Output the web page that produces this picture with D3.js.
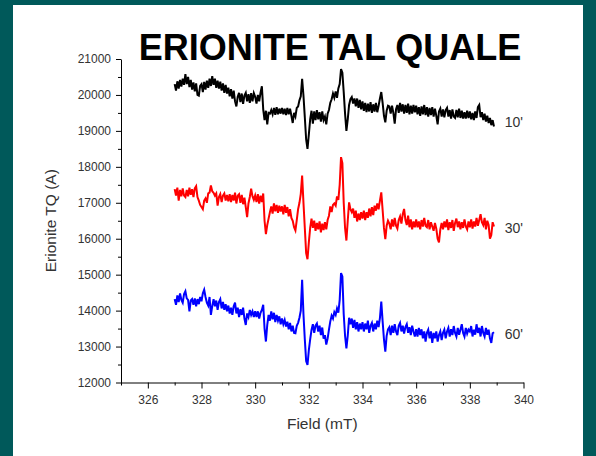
<!DOCTYPE html>
<html>
<head>
<meta charset="utf-8">
<script src="https://cdn.jsdelivr.net/npm/d3@7"></script>
<style>
  html, body { margin: 0; padding: 0; background: #00595a; }
  svg { display: block; }
  text { font-family: "Liberation Sans", Arial, sans-serif; }
</style>
</head>
<body>
<svg id="chart" width="596" height="456"></svg>
<script>
// ---- data ----
const title = "ERIONITE TAL QUALE";
const xLabel = "Field (mT)";
const yLabel = "Erionite TQ (A)";
const fieldStart = 327.0;   // mT, first sample
const fieldStep = 0.05;     // mT, sample spacing
const xTicks = [326, 328, 330, 332, 334, 336, 338, 340];
const xMinorTicks = [325, 327, 329, 331, 333, 335, 337, 339];
const yTicks = [12000, 13000, 14000, 15000, 16000, 17000, 18000, 19000, 20000, 21000];
const yMinorTicks = [12500, 13500, 14500, 15500, 16500, 17500, 18500, 19500, 20500];
const seriesNames = ["10'", "30'", "60'"];
const seriesColors = ["#000000", "#ff0000", "#0000ff"];
const labelValues = [19250, 16300, 13350];

const values10 = [
  20300,20120,20380,20180,20420,20230,20450,20280,20580,20300,20500,20220,20420,20150,20350,20100,20320,20000,19980,20250,
  20300,20080,20360,20150,20400,20200,20450,20250,20520,20280,20450,20200,20400,20180,20370,20120,20320,20060,20280,20040,
  20200,19960,20160,19900,20120,19820,19680,19950,20060,19800,20040,19750,19980,20060,19820,20020,19780,20050,19820,20050,
  19950,19760,20000,19820,20060,20240,19600,19300,19560,19180,19500,19480,19580,19460,19640,19450,19660,19460,19620,19480,
  19640,19460,19620,19440,19640,19460,19620,19420,19220,19500,19400,19640,19680,19850,19960,20450,19980,19380,18760,18500,
  18900,19320,19560,19200,19540,19300,19580,19320,19520,19260,19540,19300,19400,19180,19480,19580,19780,19880,20040,19920,
  20100,19920,20180,20300,20720,20620,20080,19480,19000,19320,19720,19880,19940,19760,19900,19680,19900,19640,19860,19600,
  19820,19560,19780,19520,19760,19540,19800,19500,19740,19540,19780,19520,19700,19900,20080,19780,19420,19240,19560,19700,
  19680,19480,19700,19500,19200,19600,19720,19500,19780,19540,19740,19480,19720,19500,19760,19460,19700,19480,19720,19520,
  19700,19460,19660,19420,19680,19460,19720,19440,19660,19400,19640,19440,19660,19400,19620,19420,19180,19540,19620,19400,
  19600,19380,19580,19640,19400,19580,19340,19600,19400,19360,19580,19380,19620,19360,19560,19340,19520,19340,19560,19360,
  19540,19320,19500,19300,19540,19360,19660,19720,19380,19520,19300,19480,19260,19420,19220,19360,19160,19300,19120
];
const values30 = [
  17380,17200,17420,17060,17360,17180,17400,17200,17160,17360,17180,17420,17220,17380,17160,17400,17460,17160,17060,16940,
  16880,16820,17060,17120,17000,17260,17280,17480,17320,17280,17200,17260,16920,17160,17240,17020,17200,17260,17060,17220,
  17040,17240,17020,17220,17060,17280,16980,17200,17240,17000,17220,16960,17140,16880,16600,16980,17160,17390,17180,17080,
  17200,17020,17240,16980,17200,17020,17260,16500,16130,16380,16560,16740,16900,16700,16980,16760,16940,16720,16920,16760,
  16900,16680,16940,16720,16880,16620,16820,16580,16500,16320,16230,16520,16820,17000,17250,17760,17000,16300,15600,15430,
  15900,16300,16560,16300,16500,16220,16440,16260,16480,16180,16420,16240,16460,16260,16520,16640,16900,16740,16940,16980,
  16920,17180,17080,17500,18270,18100,17000,16300,15950,16500,17010,16820,16740,16840,16580,16780,16480,16700,16520,16740,
  16560,16780,16520,16740,16580,16840,16620,16880,16660,16920,16780,16980,16820,17060,17290,16800,16300,15990,16360,16500,
  16420,16260,16540,16340,16580,16360,16280,16520,16620,16420,16680,16830,16520,16380,16640,16320,16540,16260,16480,16320,
  16540,16320,16480,16260,16520,16340,16580,16360,16320,16520,16260,16460,16340,16220,16440,16280,16000,15900,16260,16440,
  16260,16480,16320,16540,16240,16460,16300,16520,16220,16440,16560,16320,16480,16260,16460,16300,16540,16340,16260,16480,
  16320,16540,16280,16480,16340,16580,16360,16520,16680,16460,16380,16580,16260,16500,16380,16000,16100,16460,16340
];
const values60 = [
  14320,14160,14420,14240,14480,14300,14220,14460,14540,14340,14300,13980,14280,14320,14160,14340,14120,14320,14180,14380,
  14260,14480,14580,14380,14220,14140,14380,13880,14120,14320,14120,14280,14020,14240,14320,14060,14240,14020,14180,13980,
  14140,13920,14080,13880,14120,14220,13920,14080,13820,14040,13880,14080,13780,13600,13920,13820,14020,13880,13980,13820,
  13980,13820,13980,13780,13940,14020,14160,13500,13140,13600,13880,13720,13980,13760,13940,13680,13880,13720,13840,13620,
  13780,13620,13740,13560,13690,13480,13660,13420,13580,13380,13370,13580,13660,13800,14000,14860,13900,13200,12600,12490,
  12900,13200,13465,13620,13380,13580,13640,13420,13580,13320,13530,13220,13320,13055,13220,13470,13700,13860,13780,13960,
  13880,14060,13940,14300,15045,14950,13900,13300,12950,13300,13800,13620,13780,13520,13740,13480,13680,13420,13640,13480,
  13680,13420,13640,13480,13720,13380,13580,13660,13420,13640,13480,13720,13540,13800,14250,13700,13200,12860,13300,13480,
  13540,13320,13580,13380,13620,13420,13320,13580,13660,13420,13580,13360,13540,13620,13380,13540,13320,13580,13420,13280,
  13480,13280,13520,13320,13480,13230,13420,13140,13380,13470,13230,13420,13100,13380,13230,13420,13140,13320,13420,13180,
  13380,13470,13230,13420,13520,13280,13480,13320,13570,13380,13280,13520,13330,13470,13620,13380,13280,13520,13360,13470,
  13420,13570,13280,13470,13330,13620,13380,13520,13280,13570,13380,13280,13520,13330,13470,13230,13100,13370,13400
];
const seriesValues = [values10, values30, values60];

// ---- drawing ----
const svg = d3.select("#chart");

// white panel inside teal frame
svg.append("rect").attr("x", 13).attr("y", 5).attr("width", 570).attr("height", 451).attr("fill", "#ffffff");

const x = d3.scaleLinear().domain([325, 340]).range([121, 523.5]);
const y = d3.scaleLinear().domain([12000, 21000]).range([382.5, 59]);

const axisColor = "#000";
const labelColor = "#333";

// minor ticks
svg.append("g").attr("transform", `translate(0,${y.range()[0]})`)
  .call(d3.axisBottom(x).tickValues(xMinorTicks).tickSize(3).tickFormat(""))
  .call(g => g.select(".domain").remove());
svg.append("g").attr("transform", `translate(${x.range()[0]},0)`)
  .call(d3.axisLeft(y).tickValues(yMinorTicks).tickSize(3).tickFormat(""))
  .call(g => g.select(".domain").remove());

// major axes
const xAxis = svg.append("g").attr("transform", `translate(0,${y.range()[0]})`)
  .call(d3.axisBottom(x).tickValues(xTicks).tickSize(6).tickPadding(7).tickSizeOuter(0).tickFormat(d3.format("d")));
const yAxis = svg.append("g").attr("transform", `translate(${x.range()[0]},0)`)
  .call(d3.axisLeft(y).tickValues(yTicks).tickSize(5).tickPadding(5).tickSizeOuter(0).tickFormat(d3.format("d")));

[xAxis, yAxis].forEach(g => {
  g.selectAll("path, line").attr("stroke", axisColor).attr("stroke-width", 1);
  g.selectAll("text").attr("fill", labelColor).attr("font-size", 12)
    .attr("font-family", '"Liberation Sans", Arial, sans-serif');
});

// series lines
const line = d3.line()
  .x((d, i) => x(fieldStart + i * fieldStep))
  .y(d => y(d));

seriesValues.forEach((vals, k) => {
  svg.append("path")
    .datum(vals)
    .attr("fill", "none")
    .attr("stroke", seriesColors[k])
    .attr("stroke-width", 2)
    .attr("stroke-linejoin", "miter")
    .attr("d", line);
});

// series labels (placed near end of each trace)
seriesNames.forEach((name, k) => {
  svg.append("text")
    .attr("x", x(339.3))
    .attr("y", y(labelValues[k]))
    .attr("dy", "0.35em")
    .attr("font-size", 14)
    .attr("fill", labelColor)
    .text(name);
});

// axis titles
svg.append("text")
  .attr("x", (x.range()[0] + x.range()[1]) / 2)
  .attr("y", 429)
  .attr("text-anchor", "middle")
  .attr("font-size", 15.5)
  .attr("fill", labelColor)
  .text(xLabel);

svg.append("text")
  .attr("transform", `translate(56,${(y.range()[0] + y.range()[1]) / 2}) rotate(-90)`)
  .attr("text-anchor", "middle")
  .attr("font-size", 15.5)
  .attr("fill", labelColor)
  .text(yLabel);

// title
svg.append("text")
  .attr("x", 330)
  .attr("y", 60)
  .attr("text-anchor", "middle")
  .attr("font-size", 36)
  .attr("font-weight", "bold")
  .attr("fill", "#000")
  .text(title);
</script>
</body>
</html>
